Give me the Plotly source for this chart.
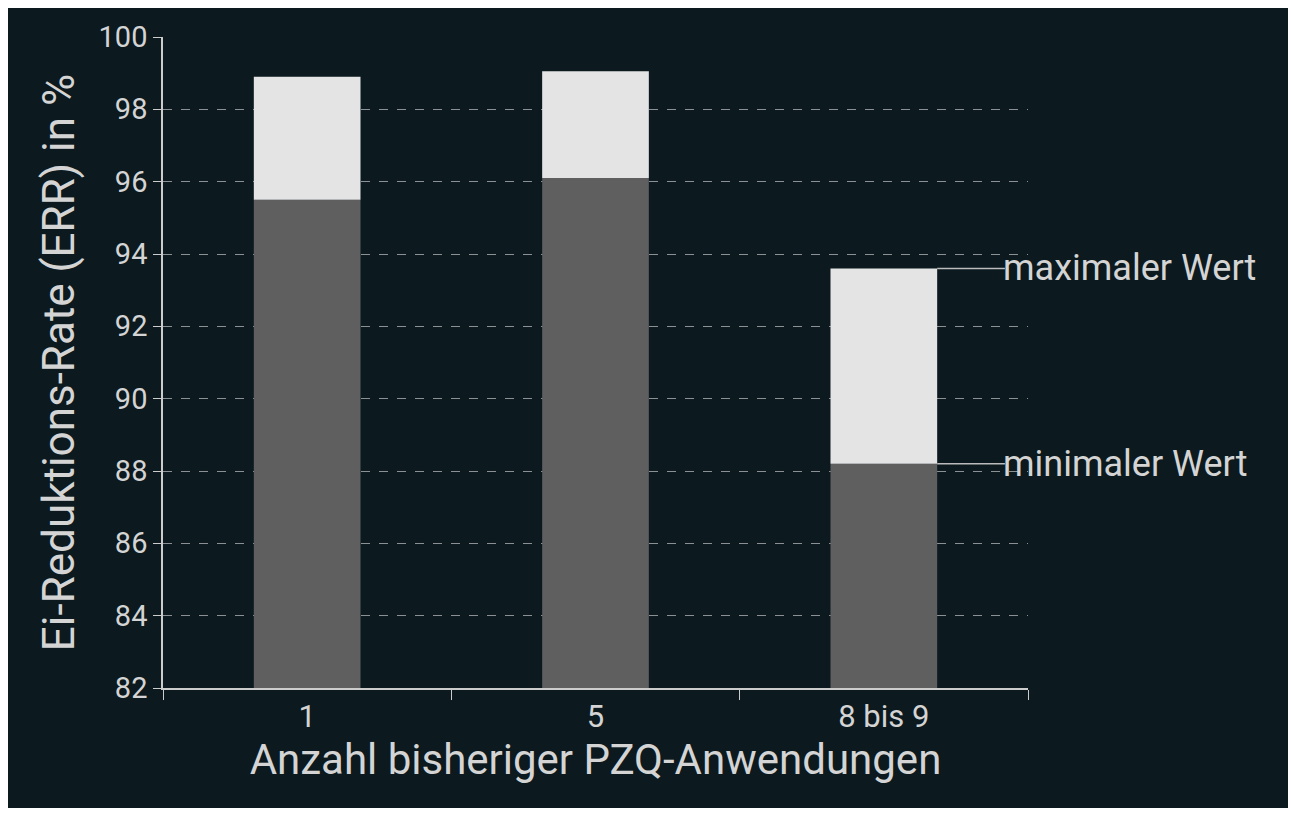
import plotly.graph_objects as go

# ERR values
categories = ['1', '5', '8 bis 9']
min_values = [95.5, 96.1, 88.2]
max_values = [98.9, 99.05, 93.6]

bg = '#0c1a1f'
txt = '#d4d4d4'

fig = go.Figure()
fig.add_trace(go.Bar(x=categories, y=[v - 82 for v in min_values], base=82,
                     marker=dict(color='#5f5f5f', line=dict(width=0)), width=0.37, showlegend=False))
fig.add_trace(go.Bar(x=categories, y=[mx - mn for mx, mn in zip(max_values, min_values)],
                     base=min_values, marker=dict(color='#e4e4e4', line=dict(width=0)),
                     width=0.37, showlegend=False))

# labels for the last bar, with connector lines
for val, label in [(max_values[2], 'maximaler Wert'), (min_values[2], 'minimaler Wert')]:
    fig.add_shape(type='line', xref='x', yref='y', x0=2.185, x1=2.42, y0=val, y1=val,
                  line=dict(color='#bbbbbb', width=1.5))
    fig.add_annotation(x=2.42, y=val, xref='x', yref='y', text=label, showarrow=False,
                       xanchor='left', xshift=-4, font=dict(size=36, color=txt))

fig.update_layout(
    barmode='overlay',
    width=1280, height=800,
    paper_bgcolor=bg, plot_bgcolor=bg,
    margin=dict(l=155, r=260, t=26, b=120),
    font=dict(family='Roboto', color=txt),
)
fig.update_xaxes(
    showline=True, linecolor='#cccccc', linewidth=1.5,
    ticks='outside', tickson='boundaries', ticklen=10, tickcolor='#cccccc',
    tickfont=dict(size=31, color=txt),
    title=dict(text='Anzahl bisheriger PZQ-Anwendungen', font=dict(size=42, color=txt), standoff=4),
    range=[-0.5, 2.5],
)
fig.update_yaxes(
    range=[82, 100], dtick=2,
    showline=True, linecolor='#cccccc', linewidth=1.5,
    ticks='outside', ticklen=8, tickcolor='#cccccc',
    tickfont=dict(size=29, color=txt),
    showgrid=True, gridcolor='#8a9094', griddash='dash', gridwidth=1,
    zeroline=False,
    title=dict(text='Ei-Reduktions-Rate (ERR) in %', font=dict(size=44, color=txt), standoff=10),
)

fig.write_html('out.html')
